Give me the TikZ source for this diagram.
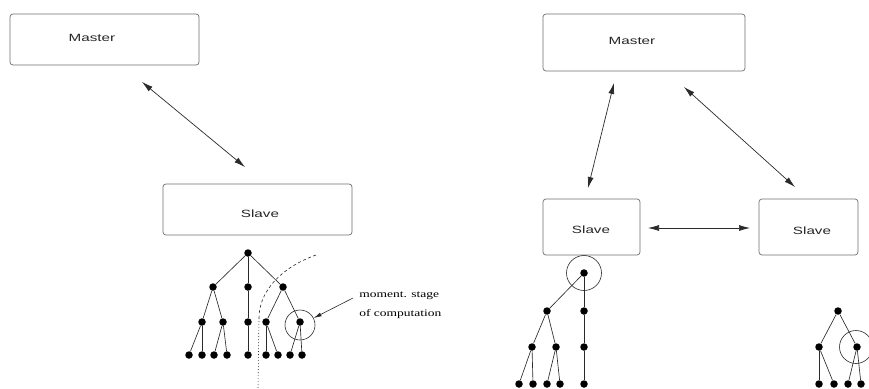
\documentclass[tikz,border=0pt]{standalone}
\usepackage{fontspec}
\setmainfont{Liberation Serif}
\setsansfont{Liberation Sans}
\usetikzlibrary{arrows.meta}
\definecolor{boxline}{HTML}{6E6E6E}
\definecolor{inkline}{HTML}{2A2A2A}
\tikzset{
  procbox/.style={draw=boxline, line width=0.7pt, rounded corners=3pt, inner sep=0pt},
  boxtext/.style={font=\sffamily\fontsize{10.5}{12}\selectfont, text=black!85, inner sep=0pt, xscale=1.45, transform shape},
  noteline/.style={font=\rmfamily\fontsize{10}{12}\selectfont, inner sep=0pt, xscale=1.35, transform shape, anchor=west},
  msg/.style={draw=inkline, line width=0.7pt, {Latex[length=11pt,width=6pt]}-{Latex[length=11pt,width=6pt]}},
  dot/.style={circle, fill=black, inner sep=0pt, minimum size=7.5pt},
  edge/.style={draw=inkline, line width=0.65pt},
  ring/.style={draw=inkline, line width=0.6pt},
}
\begin{document}
\begin{tikzpicture}[x=1pt, y=-1pt]
\useasboundingbox (0,0) rectangle (869,388);

% ---------- left: master / slave ----------
\node[procbox, minimum width=189pt, minimum height=51pt] (lm) at (104.5,39.5) {};
\node[boxtext] (lmt) at (92,38) {Master};
\node[procbox, minimum width=189pt, minimum height=51pt] (ls) at (257.5,209.5) {};
\node[boxtext] (lst) at (260,214) {Slave};
\coordinate (la1) at (142,82);
\coordinate (la2) at (245,167);
\draw[msg] (la1) -- (la2);

% left tree
\node[dot] (r) at (248,253) {};
\node[dot] (a) at (213,287) {};
\node[dot] (b) at (248,287) {};
\node[dot] (c) at (283,287) {};
\node[dot] (a1) at (202,322) {};
\node[dot] (a2) at (223,322) {};
\node[dot] (b1) at (248,322) {};
\node[dot] (c1) at (266,322) {};
\node[dot] (c2) at (300,322) {};
\node[dot] (l1) at (189,355) {};
\node[dot] (l2) at (202,355) {};
\node[dot] (l3) at (214,355) {};
\node[dot] (l4) at (227,355) {};
\node[dot] (l5) at (248,355) {};
\node[dot] (l6) at (266,355) {};
\node[dot] (l7) at (278,355) {};
\node[dot] (l8) at (290,355) {};
\node[dot] (l9) at (302,355) {};
\foreach \u/\v in {r/a,r/b,r/c,a/a1,a/a2,b/b1,c/c1,c/c2,a1/l1,a1/l2,a2/l3,a2/l4,b1/l5,c1/l6,c1/l7,c2/l8,c2/l9}
  \draw[edge] (\u) -- (\v);
\node[ring, circle, minimum size=30pt, inner sep=0pt] (lring) at (300,325) {};
\coordinate (cut1) at (316,255);
\coordinate (cut2) at (259,318);
\coordinate (cut3) at (258,388);
\draw[inkline, line width=0.6pt, dash pattern=on 3pt off 2.5pt] (cut1) .. controls (280,268) and (259,292) .. (cut2);
\draw[inkline, line width=0.6pt, dash pattern=on 1pt off 2pt] (cut2) -- (cut3);
\node[noteline] (n1) at (359,296) {moment. stage};
\node[noteline] (n2) at (359,314) {of computation};
\coordinate (na) at (353,298);
\draw[draw=inkline, line width=0.6pt, -{Latex[length=8pt,width=4pt]}] (na) -- (lring);

% ---------- right: master / two slaves ----------
\node[procbox, minimum width=202pt, minimum height=57pt] (rm) at (644,42.5) {};
\node[boxtext] (rmt) at (632,41) {Master};
\node[procbox, minimum width=97pt, minimum height=56pt] (rs1) at (591.5,227) {};
\node[boxtext] (rs1t) at (591,230) {Slave};
\node[procbox, minimum width=99pt, minimum height=56pt] (rs2) at (808.5,227) {};
\node[boxtext] (rs2t) at (812,231) {Slave};
\coordinate (ra1) at (614,83);
\coordinate (ra2) at (588,188);
\coordinate (rb1) at (684,87);
\coordinate (rb2) at (795,187);
\coordinate (rc1) at (648,228);
\coordinate (rc2) at (750,228);
\draw[msg] (ra1) -- (ra2);
\draw[msg] (rb1) -- (rb2);
\draw[msg] (rc1) -- (rc2);

% right tree 1
\node[dot] (p) at (584,273) {};
\node[dot] (p1) at (547,311) {};
\node[dot] (p2) at (584,311) {};
\node[dot] (p11) at (532,347) {};
\node[dot] (p12) at (556,347) {};
\node[dot] (p21) at (584,347) {};
\node[dot] (q1) at (519,384) {};
\node[dot] (q2) at (533,384) {};
\node[dot] (q3) at (547,384) {};
\node[dot] (q4) at (560,384) {};
\node[dot] (q5) at (584,384) {};
\foreach \u/\v in {p/p1,p/p2,p1/p11,p1/p12,p2/p21,p11/q1,p11/q2,p12/q3,p12/q4,p21/q5}
  \draw[edge] (\u) -- (\v);
\node[ring, circle, minimum size=35pt, inner sep=0pt] (pring) at (584,273) {};

% right tree 2
\node[dot] (s) at (838,311) {};
\node[dot] (s1) at (819,347) {};
\node[dot] (s2) at (857,347) {};
\node[dot] (t1) at (819,384) {};
\node[dot] (t2) at (834,384) {};
\node[dot] (t3) at (848,384) {};
\node[dot] (t4) at (861,384) {};
\foreach \u/\v in {s/s1,s/s2,s1/t1,s1/t2,s2/t3,s2/t4}
  \draw[edge] (\u) -- (\v);
\node[ring, circle, minimum size=33pt, inner sep=0pt] (sring) at (856,347) {};
\end{tikzpicture}
\end{document}
